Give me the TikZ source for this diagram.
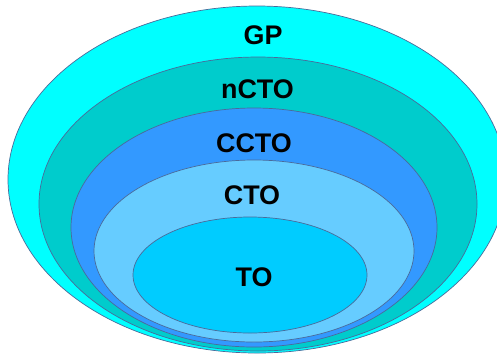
\documentclass[tikz,border=0pt]{standalone}
\usepackage{fontspec}
\setmainfont{Liberation Sans}
\begin{document}
\begin{tikzpicture}[x=1bp,y=-1bp,
  ring/.style={draw=edgecol,line width=0.7bp},
  lbl/.style={font=\fontsize{27}{30}\selectfont\bfseries,text=black,inner sep=0pt,anchor=center}]
\definecolor{edgecol}{HTML}{4A6A9A}
\definecolor{cGP}{HTML}{00FFFF}
\definecolor{cnCTO}{HTML}{00CCCC}
\definecolor{cCCTO}{HTML}{3399FF}
\definecolor{cCTO}{HTML}{66CCFF}
\definecolor{cTO}{HTML}{00CCFF}
\useasboundingbox (0,0) rectangle (497,354);
\clip (0,0) rectangle (497,354);
\fill[white] (0,0) rectangle (497,354);
\draw[ring,fill=cGP] (257,179.5) ellipse [x radius=249, y radius=173.5];
\draw[ring,fill=cnCTO] (258,204) ellipse [x radius=219, y radius=147];
\draw[ring,fill=cCCTO] (254,227.5) ellipse [x radius=183, y radius=119.5];
\draw[ring,fill=cCTO] (254,251) ellipse [x radius=160, y radius=91];
\draw[ring,fill=cTO] (250,275) ellipse [x radius=117, y radius=58];
\node[lbl] (gp) at (263,35) {GP};
\node[lbl] (ncto) at (257.5,89.5) {nCTO};
\node[lbl] (ccto) at (254,143) {CCTO};
\node[lbl] (cto) at (252,195.5) {CTO};
\node[lbl] (to) at (254,277.5) {TO};
\end{tikzpicture}
\end{document}
